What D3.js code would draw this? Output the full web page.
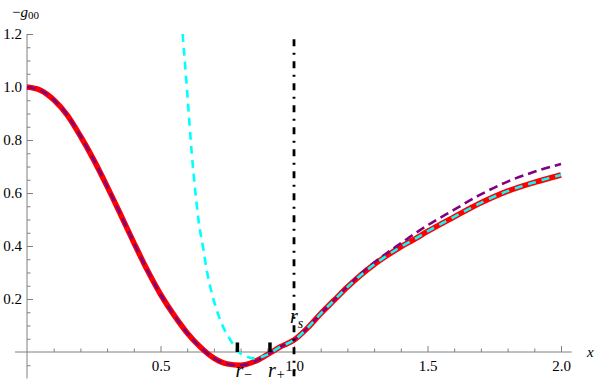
<!DOCTYPE html>
<html>
<head>
<meta charset="utf-8">
<script src="https://cdn.jsdelivr.net/npm/d3@7"></script>
<style>
    body { margin: 0; background: #fff; }
    svg { display: block; }
</style>
</head>
<body>
<svg id="chart" width="597" height="382"></svg>
<script>
(function () {
    "use strict";

    // exact solution (thick red)
    var exactX = [0, 0.05, 0.1, 0.15, 0.2, 0.25, 0.3, 0.35, 0.4, 0.45, 0.5, 0.55, 0.6, 0.65, 0.7, 0.75, 0.8,
        0.85, 0.9, 0.95, 1.0, 1.05, 1.1, 1.15, 1.2, 1.25, 1.3, 1.35, 1.4, 1.45, 1.5, 1.6, 1.7, 1.8, 1.9, 2.0];
    var exactY = [1.0, 0.988, 0.952, 0.895, 0.815, 0.725, 0.625, 0.52, 0.413, 0.31, 0.218, 0.14, 0.072, 0.018,
        -0.023, -0.045, -0.05, -0.037, -0.01, 0.02, 0.045, 0.09, 0.145, 0.195, 0.245, 0.29, 0.33, 0.365, 0.397,
        0.425, 0.455, 0.51, 0.563, 0.607, 0.64, 0.668];

    // small-x approximation (purple dashed)
    var innerX = [0, 0.05, 0.1, 0.15, 0.2, 0.25, 0.3, 0.35, 0.4, 0.45, 0.5, 0.55, 0.6, 0.65, 0.7, 0.75, 0.8,
        0.85, 0.9, 0.95, 1.0, 1.05, 1.1, 1.15, 1.2, 1.25, 1.3, 1.35, 1.4, 1.45, 1.5, 1.6, 1.7, 1.8, 1.9, 2.0];
    var innerY = [1.0, 0.988, 0.952, 0.895, 0.815, 0.725, 0.625, 0.52, 0.413, 0.31, 0.218, 0.14, 0.072, 0.018,
        -0.023, -0.045, -0.05, -0.037, -0.01, 0.02, 0.045, 0.09, 0.145, 0.196, 0.247, 0.295, 0.338, 0.375, 0.41,
        0.445, 0.478, 0.537, 0.595, 0.643, 0.68, 0.709];

    // large-x approximation (cyan dashed)
    var outerX = [0.583, 0.6, 0.617, 0.63, 0.642, 0.66, 0.673, 0.69, 0.71, 0.73, 0.754, 0.77, 0.791, 0.82,
        0.848, 0.875, 0.9, 0.95, 1.0, 1.05, 1.1, 1.15, 1.2, 1.25, 1.3, 1.35, 1.4, 1.45, 1.5, 1.6, 1.7, 1.8, 1.9, 2.0];
    var outerY = [1.2, 0.98, 0.75, 0.61, 0.5, 0.39, 0.31, 0.23, 0.16, 0.105, 0.058, 0.032, 0.002, -0.016,
        -0.024, -0.02, -0.01, 0.02, 0.045, 0.09, 0.145, 0.195, 0.245, 0.29, 0.33, 0.365, 0.397, 0.425, 0.455,
        0.51, 0.563, 0.607, 0.64, 0.668];

    var rS = 1.0;
    var horizons = [{x: 0.788, name: "\u2212"}, {x: 0.91, name: "+"}];

    var xMajor = [0.5, 1.0, 1.5, 2.0];
    var xMinor = [0.1, 0.2, 0.3, 0.4, 0.6, 0.7, 0.8, 0.9, 1.1, 1.2, 1.3, 1.4, 1.6, 1.7, 1.8, 1.9];
    var yMajor = [0.2, 0.4, 0.6, 0.8, 1.0, 1.2];
    var yMinor = [-0.05, 0.05, 0.1, 0.15, 0.25, 0.3, 0.35, 0.45, 0.5, 0.55, 0.65, 0.7, 0.75, 0.85, 0.9, 0.95, 1.05, 1.1, 1.15];

    var serif = "Liberation Serif, DejaVu Serif, serif";
    var axisColor = "#808080";
    var svg = d3.select("#chart");

    var x = d3.scaleLinear().domain([0, 2]).range([27, 561]);
    var y = d3.scaleLinear().domain([0, 1]).range([352, 87]);

    function zip(xs, ys) {
        return xs.map(function (v, i) { return [v, ys[i]]; });
    }

    // axes
    var $axes = svg.append("g");
    $axes.append("line")
        .attr("x1", x(-0.045)).attr("x2", x(2.04))
        .attr("y1", y(0)).attr("y2", y(0))
        .attr("stroke", axisColor);
    $axes.append("line")
        .attr("x1", x(0)).attr("x2", x(0))
        .attr("y1", y(1.2)).attr("y2", y(-0.1))
        .attr("stroke", axisColor);

    var $xMaj = $axes.append("g").attr("transform", "translate(0," + y(0) + ")")
        .call(d3.axisBottom(x).tickValues(xMajor).tickSize(-6).tickPadding(8).tickFormat(d3.format(".1f")));
    var $xMin = $axes.append("g").attr("transform", "translate(0," + y(0) + ")")
        .call(d3.axisBottom(x).tickValues(xMinor).tickSize(-3.5).tickFormat(""));
    var $yMaj = $axes.append("g").attr("transform", "translate(" + x(0) + ",0)")
        .call(d3.axisLeft(y).tickValues(yMajor).tickSize(-6).tickPadding(5).tickFormat(d3.format(".1f")));
    var $yMin = $axes.append("g").attr("transform", "translate(" + x(0) + ",0)")
        .call(d3.axisLeft(y).tickValues(yMinor).tickSize(-3.5).tickFormat(""));

    [$xMaj, $xMin, $yMaj, $yMin].forEach(function ($g) {
        $g.select(".domain").remove();
        $g.selectAll(".tick line").attr("stroke", axisColor);
        $g.selectAll(".tick text")
            .attr("fill", "#000")
            .style("font-family", serif)
            .style("font-size", "15px");
    });

    // axis labels
    var $yl = svg.append("text").attr("x", 12).attr("y", 17)
        .style("font-family", serif).style("font-size", "15px");
    $yl.append("tspan").text("\u2212");
    $yl.append("tspan").style("font-style", "italic").text("g");
    $yl.append("tspan").attr("dy", 2).style("font-size", "11px").text("00");

    svg.append("text")
        .attr("x", 587).attr("y", 357)
        .style("font-family", serif).style("font-size", "15px").style("font-style", "italic")
        .text("x");

    // curves
    var line = d3.line()
        .x(function (d) { return x(d[0]); })
        .y(function (d) { return y(d[1]); })
        .curve(d3.curveMonotoneX);

    var $curves = svg.append("g").attr("fill", "none");
    $curves.append("path")
        .attr("d", line(zip(exactX, exactY)))
        .attr("stroke", "#ff0000")
        .attr("stroke-width", 5.5);
    $curves.append("path")
        .attr("d", line(zip(innerX, innerY)))
        .attr("stroke", "#800080")
        .attr("stroke-width", 2.6)
        .attr("stroke-dasharray", "9,5");
    $curves.append("path")
        .attr("d", line(zip(outerX, outerY)))
        .attr("stroke", "#00ffff")
        .attr("stroke-width", 2.6)
        .attr("stroke-dasharray", "8,6");

    // r_s line
    svg.append("line")
        .attr("x1", x(rS)).attr("x2", x(rS))
        .attr("y1", y(1.18)).attr("y2", y(-0.125))
        .attr("stroke", "#000")
        .attr("stroke-width", 2.8)
        .attr("stroke-dasharray", "7,6.5,2,6.5");

    var $rs = svg.append("text")
        .attr("x", x(rS) - 4).attr("y", 323)
        .style("font-family", serif).style("font-size", "20px").style("font-style", "italic");
    $rs.append("tspan").text("r");
    $rs.append("tspan").attr("dy", 5).style("font-size", "14px").text("s");

    // horizon markers
    svg.append("g").selectAll("line")
        .data(horizons)
        .enter()
        .append("line")
        .attr("x1", function (d) { return x(d.x); })
        .attr("x2", function (d) { return x(d.x); })
        .attr("y1", y(0))
        .attr("y2", y(0.036))
        .attr("stroke", "#000")
        .attr("stroke-width", 3.5);

    var $hl = svg.append("g").selectAll("text")
        .data(horizons)
        .enter()
        .append("text")
        .attr("x", function (d) { return x(d.x) - 2; })
        .attr("y", 377)
        .style("font-family", serif)
        .style("font-size", "20px");
    $hl.append("tspan").style("font-style", "italic").text("r");
    $hl.append("tspan").attr("dy", 2).attr("dx", 1).style("font-size", "14px").text(function (d) { return d.name; });
}());
</script>
</body>
</html>
